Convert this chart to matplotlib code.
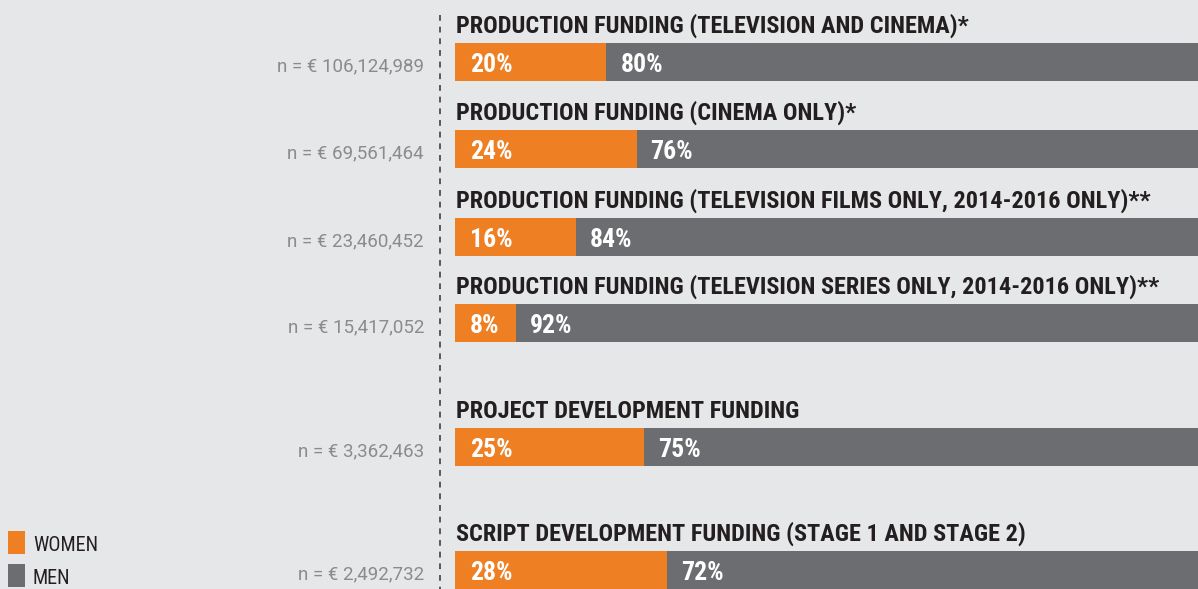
import numpy as np
import matplotlib.pyplot as plt

# DATA
titles = [
    "PRODUCTION FUNDING (TELEVISION AND CINEMA)*",
    "PRODUCTION FUNDING (CINEMA ONLY)*",
    "PRODUCTION FUNDING (TELEVISION FILMS ONLY, 2014-2016 ONLY)**",
    "PRODUCTION FUNDING (TELEVISION SERIES ONLY, 2014-2016 ONLY)**",
    "PROJECT DEVELOPMENT FUNDING",
    "SCRIPT DEVELOPMENT FUNDING (STAGE 1 AND STAGE 2)",
]
n_labels = [
    "n = € 106,124,989",
    "n = € 69,561,464",
    "n = € 23,460,452",
    "n = € 15,417,052",
    "n = € 3,362,463",
    "n = € 2,492,732",
]
women = [20, 24, 16, 8, 25, 28]
men = [80, 76, 84, 92, 75, 72]

# LAYOUT (pixel rows of the bar centres)
bar_y = [62, 149, 237, 323, 447, 570]
bar_h = 38

ORANGE = "#ee8023"
GREY = "#6c6d70"
BG = "#e6e7e8"
W, H = 1198, 589

cond = ["Roboto Condensed", "IBM Plex Sans Condensed", "DejaVu Sans"]

fig = plt.figure(figsize=(W / 100, H / 100), dpi=100)
fig.patch.set_facecolor(BG)

# bar axes: starts at x=455 px, bars run past the right edge
ax = fig.add_axes([455 / W, 0, 1 - 455 / W, 1])
ax.set_facecolor(BG)
ax.set_xlim(0, 98.2)
ax.set_ylim(H, 0)
ax.axis("off")

ax.barh(bar_y, women, height=bar_h, color=ORANGE, linewidth=0)
ax.barh(bar_y, men, left=women, height=bar_h, color=GREY, linewidth=0)

for y, t, w, m in zip(bar_y, titles, women, men):
    ax.text(0.1, y - 29, t, fontsize=17.5, fontweight="bold", color="#231f20",
            family=cond, va="baseline", ha="left")
    ax.text(2.0, y + 10, f"{w}%", fontsize=18.5, fontweight="bold", color="white",
            family=cond, va="baseline", ha="left")
    ax.text(w + 1.85, y + 10, f"{m}%", fontsize=18.5, fontweight="bold", color="white",
            family=cond, va="baseline", ha="left")

# left side: n labels, dashed divider and legend
lax = fig.add_axes([0, 0, 455 / W, 1])
lax.set_facecolor(BG)
lax.set_xlim(0, 455)
lax.set_ylim(H, 0)
lax.axis("off")

lax.plot([440, 440], [15, H], color="#58595b", linestyle=(0, (3, 3)), linewidth=1.4)
for y, n in zip(bar_y, n_labels):
    lax.text(424, y + 9, n, fontsize=13.5, color="#8a8b8e", family=["Roboto", "DejaVu Sans"],
             va="baseline", ha="right")

legend_names = ["WOMEN", "MEN"]
legend_colors = [ORANGE, GREY]
legend_y = [542, 575]
for y, name, c in zip(legend_y, legend_names, legend_colors):
    lax.add_patch(plt.Rectangle((8, y - 11), 17, 23, color=c, linewidth=0))
    lax.text(33, y + 9, name, fontsize=14.5, color="#231f20", family=cond,
             va="baseline", ha="left")

fig.savefig("out.png", dpi=100, facecolor=BG)
